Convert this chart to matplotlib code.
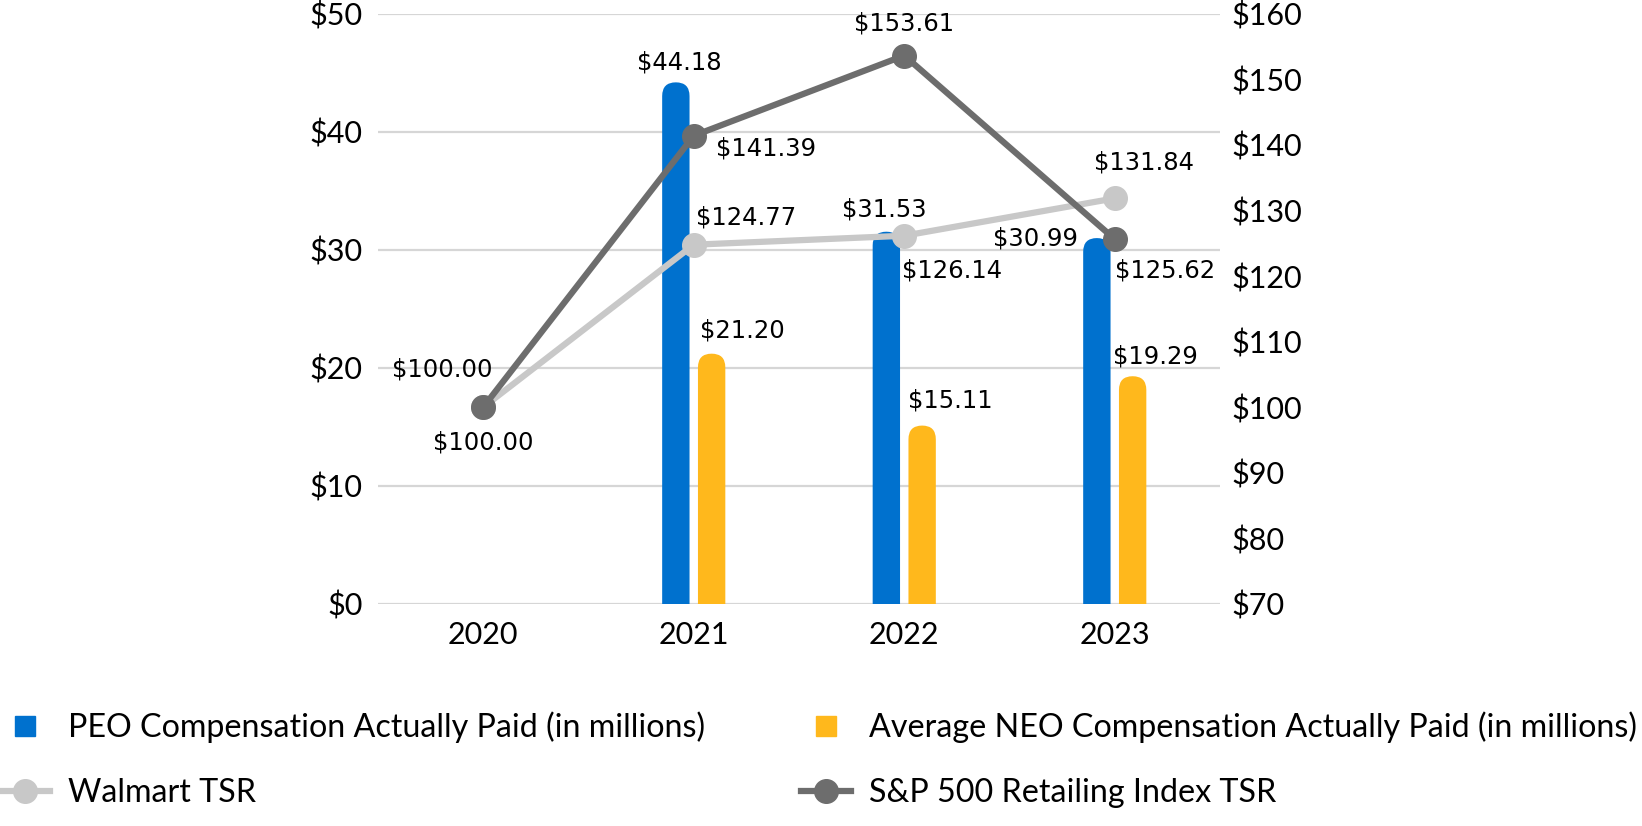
import matplotlib
matplotlib.use("Agg")
import matplotlib.pyplot as plt
from matplotlib.patches import FancyBboxPatch
from matplotlib.lines import Line2D
import numpy as np

years = ["2020", "2021", "2022", "2023"]
peo_cap = [0.0, 44.18, 31.53, 30.99]
neo_cap = [0.0, 21.20, 15.11, 19.29]
walmart_tsr = [100.00, 124.77, 126.14, 131.84]
sp_tsr = [100.00, 141.39, 153.61, 125.62]

left_ticks = [0, 10, 20, 30, 40, 50]
right_ticks = [70, 80, 90, 100, 110, 120, 130, 140, 150, 160]

BLUE = "#0071CE"
GOLD = "#FFB81C"
LIGHT = "#C8C8C8"
DARK = "#6D6D6D"
GRID = "#D6D6D6"
AXIS_FONT = "Lato"
LABEL_FONT = "DejaVu Sans"
TICK_SIZE = 22
LABEL_SIZE = 17.5

fig = plt.figure(figsize=(16.42, 8.26), dpi=100)
ax = fig.add_axes([0.2302, 0.2688, 0.5128, 0.7147])
ax2 = ax.twinx()

x = np.arange(len(years))
width = 0.13
off = 0.085

ax.set_xlim(-0.5, 3.5)
ax.set_ylim(0, 50)
ax2.set_ylim(70, 160)

# rounded top bars: work out the aspect so the caps come out circular
px_per_x = ax.bbox.width / 4.0
px_per_y = ax.bbox.height / 50.0
aspect = px_per_x / px_per_y
r = width / 2


def rounded_bars(xs, vals, color, label_offsets):
    bars = ax.bar(xs, vals, width, color=color)
    for rect, v, (dx, dy) in zip(bars.patches, vals, label_offsets):
        rect.remove()
        if v <= 0:
            continue
        bottom = -r * aspect
        p = FancyBboxPatch((rect.get_x(), bottom), width, v - bottom,
                           boxstyle="round,pad=0,rounding_size=%f" % r,
                           mutation_aspect=aspect, facecolor=color,
                           edgecolor="none", zorder=2)
        ax.add_patch(p)
        ax.annotate("$%.2f" % v, (rect.get_x() + width / 2, v),
                    xytext=(dx, dy), textcoords="offset pixels",
                    ha="center", va="center", fontsize=LABEL_SIZE,
                    family=LABEL_FONT, color="black", zorder=5)


rounded_bars(x - off, peo_cap, BLUE, [(0, 0), (3, 20), (-2, 22), (-61, 0)])
rounded_bars(x + off, neo_cap, GOLD, [(0, 0), (31, 23), (28, 25), (23, 20)])

ax.set_yticks(left_ticks)
ax.set_yticklabels(["$%d" % t for t in left_ticks])
ax.set_xticks(x)
ax.set_xticklabels(years)
ax.grid(axis="y", color=GRID, linewidth=1.6)
ax.set_axisbelow(True)
ax.tick_params(axis="both", length=0, labelsize=TICK_SIZE)
ax.tick_params(axis="y", pad=11)
ax.tick_params(axis="x", pad=12)
for lab in ax.get_xticklabels() + ax.get_yticklabels():
    lab.set_family(AXIS_FONT)

ax2.set_yticks(right_ticks)
ax2.set_yticklabels(["$%d" % t for t in right_ticks])
ax2.tick_params(axis="y", length=0, labelsize=TICK_SIZE, pad=8)
for lab in ax2.get_yticklabels():
    lab.set_family(AXIS_FONT)

for a in (ax, ax2):
    for s in a.spines.values():
        s.set_visible(False)

ax2.plot(x, walmart_tsr, color=LIGHT, lw=4.5, marker="o", ms=17, zorder=3)
ax2.plot(x, sp_tsr, color=DARK, lw=4.5, marker="o", ms=17, zorder=4)

wm_offsets = [(-41, 38), (52, 27), (48, -35), (29, 36)]
sp_offsets = [(0, -35), (72, -13), (0, 32), (50, -31)]
for xi, v, (dx, dy) in zip(x, walmart_tsr, wm_offsets):
    ax2.annotate("$%.2f" % v, (xi, v), xytext=(dx, dy), textcoords="offset pixels",
                 ha="center", va="center", fontsize=LABEL_SIZE, family=LABEL_FONT, zorder=6)
for xi, v, (dx, dy) in zip(x, sp_tsr, sp_offsets):
    ax2.annotate("$%.2f" % v, (xi, v), xytext=(dx, dy), textcoords="offset pixels",
                 ha="center", va="center", fontsize=LABEL_SIZE, family=LABEL_FONT, zorder=6)

h_peo = Line2D([], [], color=BLUE, marker="s", ls="none", ms=15)
h_neo = Line2D([], [], color=GOLD, marker="s", ls="none", ms=15)
h_wm = Line2D([], [], color=LIGHT, marker="o", lw=4.5, ms=17)
h_sp = Line2D([], [], color=DARK, marker="o", lw=4.5, ms=17)

leg_kw = dict(frameon=False, loc="upper left", borderaxespad=0, borderpad=0,
              handlelength=1.55, handletextpad=0.56, labelspacing=1.1,
              prop={"family": AXIS_FONT, "size": 23.2})
fig.legend([h_peo, h_wm], ["PEO Compensation Actually Paid (in millions)", "Walmart TSR"],
           bbox_to_anchor=(0.0, 0.139), **leg_kw)
fig.legend([h_neo, h_sp], ["Average NEO Compensation Actually Paid (in millions)",
                           "S&P 500 Retailing Index TSR"],
           bbox_to_anchor=(0.488, 0.139), **leg_kw)

fig.savefig("out.png", dpi=100)
